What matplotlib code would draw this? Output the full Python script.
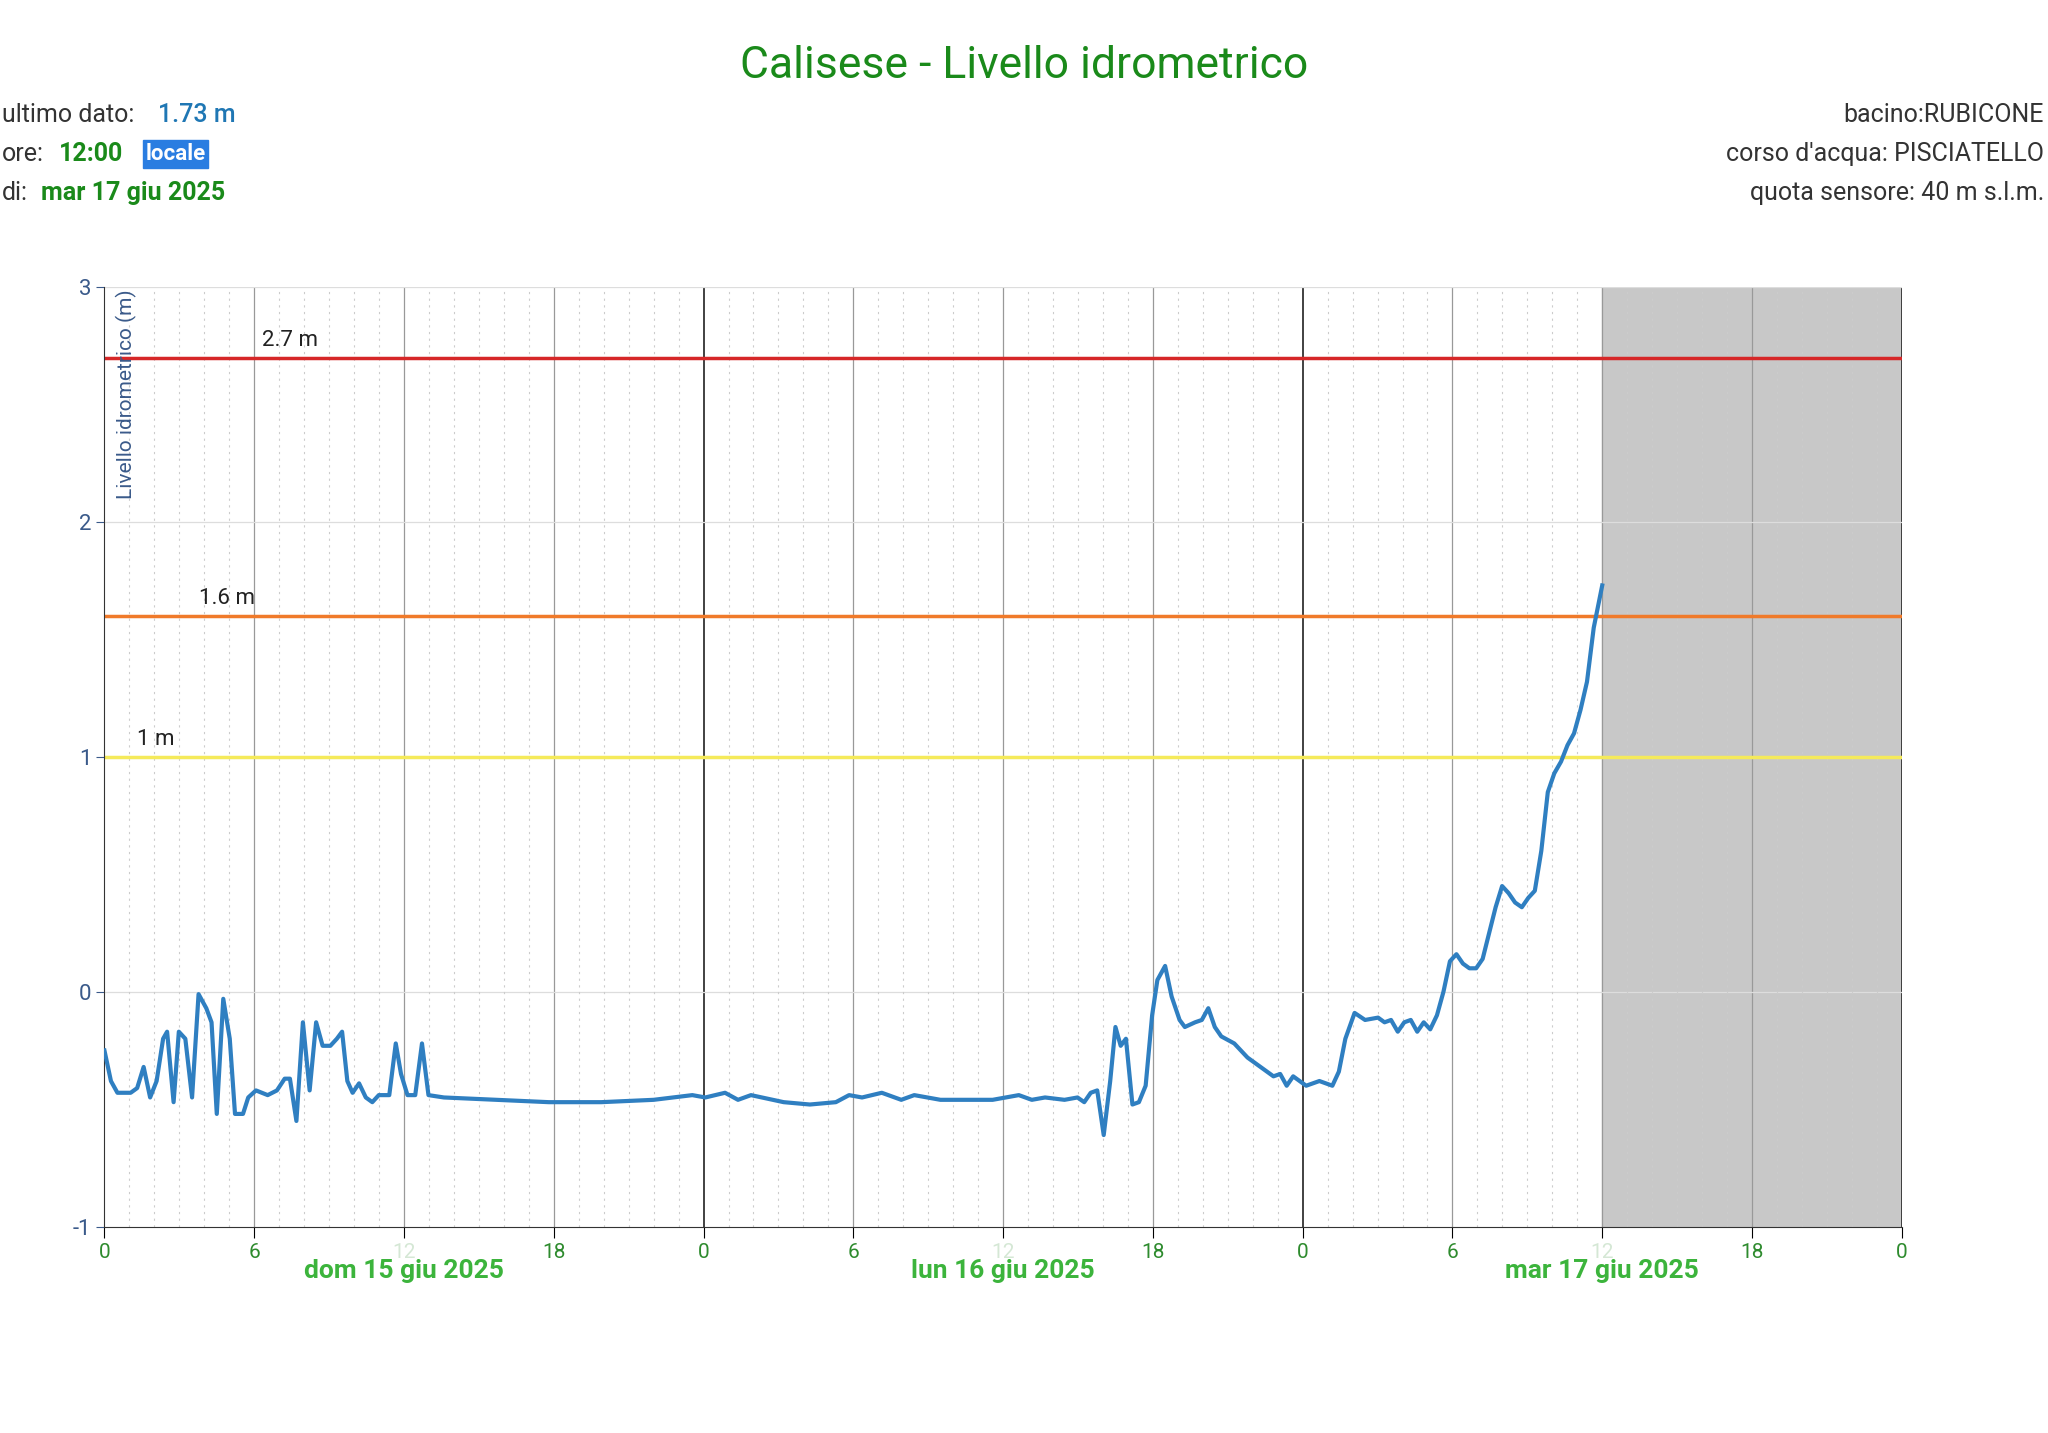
import matplotlib
matplotlib.use("Agg")
import matplotlib.pyplot as plt
from matplotlib.ticker import MultipleLocator

plt.rcParams["font.family"] = "Roboto"
plt.rcParams["axes.unicode_minus"] = False

hours = [0,0.26,0.52,1.05,1.31,1.57,1.83,2.09,2.35,2.51,2.77,2.98,3.24,3.51,3.77,4.08,4.29,4.5,4.76,5.02,5.23,5.55,5.76,
         6.07,6.54,6.91,7.22,7.43,7.69,7.95,8.22,8.48,8.74,9.05,9.31,9.52,9.73,9.94,10.2,10.47,10.73,10.99,11.41,11.67,11.88,
         12.14,12.45,12.72,12.98,13.6,15.7,17.8,19.9,22.0,23.55,24.07,24.86,25.38,25.9,27.21,28.26,29.3,29.83,30.35,31.14,
         31.92,32.44,33.49,35.58,36.63,37.15,37.68,38.46,38.98,39.25,39.51,39.77,40.03,40.29,40.5,40.71,40.92,41.18,41.44,
         41.71,41.97,42.18,42.49,42.75,43.07,43.28,43.69,43.96,44.22,44.48,44.74,45.26,45.79,46.31,46.83,47.1,47.36,47.62,
         47.88,48.14,48.67,49.19,49.45,49.71,50.08,50.5,51.02,51.28,51.54,51.81,52.07,52.33,52.59,52.85,53.11,53.38,53.64,
         53.9,54.16,54.42,54.68,54.95,55.21,55.47,55.73,55.99,56.25,56.51,56.78,57.04,57.3,57.56,57.82,58.08,58.35,58.61,
         58.87,59.13,59.39,59.66,60]
levels = [-0.25,-0.38,-0.43,-0.43,-0.41,-0.32,-0.45,-0.38,-0.2,-0.17,-0.47,-0.17,-0.2,-0.45,-0.01,-0.07,-0.13,-0.52,-0.03,-0.2,-0.52,-0.52,-0.45,
          -0.42,-0.44,-0.42,-0.37,-0.37,-0.55,-0.13,-0.42,-0.13,-0.23,-0.23,-0.2,-0.17,-0.38,-0.43,-0.39,-0.45,-0.47,-0.44,-0.44,-0.22,-0.35,
          -0.44,-0.44,-0.22,-0.44,-0.45,-0.46,-0.47,-0.47,-0.46,-0.44,-0.45,-0.43,-0.46,-0.44,-0.47,-0.48,-0.47,-0.44,-0.45,-0.43,
          -0.46,-0.44,-0.46,-0.46,-0.44,-0.46,-0.45,-0.46,-0.45,-0.47,-0.43,-0.42,-0.61,-0.38,-0.15,-0.23,-0.2,-0.48,-0.47,
          -0.4,-0.1,0.05,0.11,-0.02,-0.12,-0.15,-0.13,-0.12,-0.07,-0.15,-0.19,-0.22,-0.28,-0.32,-0.36,-0.35,-0.4,-0.36,
          -0.38,-0.4,-0.38,-0.4,-0.34,-0.2,-0.09,-0.12,-0.11,-0.13,-0.12,-0.17,-0.13,-0.12,-0.17,-0.13,-0.16,-0.1,0.0,
          0.13,0.16,0.12,0.1,0.1,0.14,0.25,0.36,0.45,0.42,0.38,0.36,0.4,0.43,0.6,0.85,0.93,0.98,1.05,
          1.1,1.2,1.32,1.55,1.73]
thresholds = [2.7, 1.6, 1.0]
threshold_labels = ["2.7 m", "1.6 m", "1 m"]
threshold_colors = ["#d62728", "#f07a2a", "#f5ea5a"]
threshold_label_x = [6.3, 3.8, 1.3]
tick_hours = list(range(0, 73, 6))
tick_labels = ["0","6","12","18"] * 3 + ["0"]
day_labels = ["dom 15 giu 2025", "lun 16 giu 2025", "mar 17 giu 2025"]
day_centers = [12, 36, 60]

fig = plt.figure(figsize=(20.48, 14.33), dpi=100)
ax = fig.add_axes([0.051, 0.144, 0.8776, 0.6556])
ax.set_xlim(0, 72)
ax.set_ylim(-1, 3)
ax.axvspan(60, 72, color="#c8c8c8", zorder=0)
ax.xaxis.set_minor_locator(MultipleLocator(1))
ax.grid(which="minor", axis="x", color="#cccccc", linestyle=(0, (2, 4)), linewidth=0.8)
ax.tick_params(which="minor", length=0)
for h in tick_hours:
    ax.axvline(h, color="#333333" if h % 24 == 0 else "#999999", linewidth=1.3 if h % 24 == 0 else 0.9, zorder=1)
for y in [0, 1, 2, 3]:
    ax.axhline(y, color="#dddddd", linewidth=0.9, zorder=1)
for t, lab, c, lx in zip(thresholds, threshold_labels, threshold_colors, threshold_label_x):
    ax.axhline(t, color=c, linewidth=2.5, zorder=2)
    ax.text(lx, t + 0.03, lab, fontsize=16, color="#222222", va="bottom")
ax.plot(hours, levels, color="#2f7fc1", linewidth=3, zorder=3)
ax.set_xticks(tick_hours)
ax.set_xticklabels(tick_labels, fontsize=15, color="#2e8b2e")
for i, lbl in enumerate(ax.get_xticklabels()):
    if tick_labels[i] == "12":
        lbl.set_alpha(0.2)
ax.set_yticks([-1, 0, 1, 2, 3])
ax.tick_params(axis="y", which="major", labelsize=16, colors="#3a5a8a", length=6)
ax.tick_params(axis="x", which="major", length=8)
for s in ["top", "right"]:
    ax.spines[s].set_visible(False)
ax.spines["left"].set_color("#333333")
ax.spines["bottom"].set_color("#333333")
for d, c in zip(day_labels, day_centers):
    ax.text(c, -1.19, d, ha="center", va="center", fontsize=19, fontweight="bold", color="#3cb43c")
ax.text(0.9, 2.99, "Livello idrometrico (m)", rotation=90, ha="center", va="top", fontsize=15, color="#3a5a8a")

fig.text(0.5, 0.954, "Calisese - Livello idrometrico", ha="center", va="center", fontsize=32, color="#1a8a1a")
fig.text(0.001, 0.92, "ultimo dato:", fontsize=18, va="center", color="#333333")
fig.text(0.077, 0.92, "1.73 m", fontsize=18, va="center", color="#1f77b4", fontweight="medium")
fig.text(0.001, 0.8925, "ore:", fontsize=18, va="center", color="#333333")
fig.text(0.029, 0.8925, "12:00", fontsize=18, va="center", color="#1a8a1a", fontweight="bold")
fig.text(0.071, 0.8925, "locale", fontsize=16, va="center", color="white", fontweight="bold",
         bbox=dict(facecolor="#2a7de1", edgecolor="#2a7de1", pad=2))
fig.text(0.001, 0.865, "di:", fontsize=18, va="center", color="#333333")
fig.text(0.020, 0.865, "mar 17 giu 2025", fontsize=18, va="center", color="#1a8a1a", fontweight="bold")
fig.text(0.998, 0.92, "bacino:RUBICONE", fontsize=18, va="center", ha="right", color="#333333")
fig.text(0.998, 0.8925, "corso d'acqua: PISCIATELLO", fontsize=18, va="center", ha="right", color="#333333")
fig.text(0.998, 0.865, "quota sensore: 40 m s.l.m.", fontsize=18, va="center", ha="right", color="#333333")
fig.savefig("out.png", dpi=100, facecolor="white")
